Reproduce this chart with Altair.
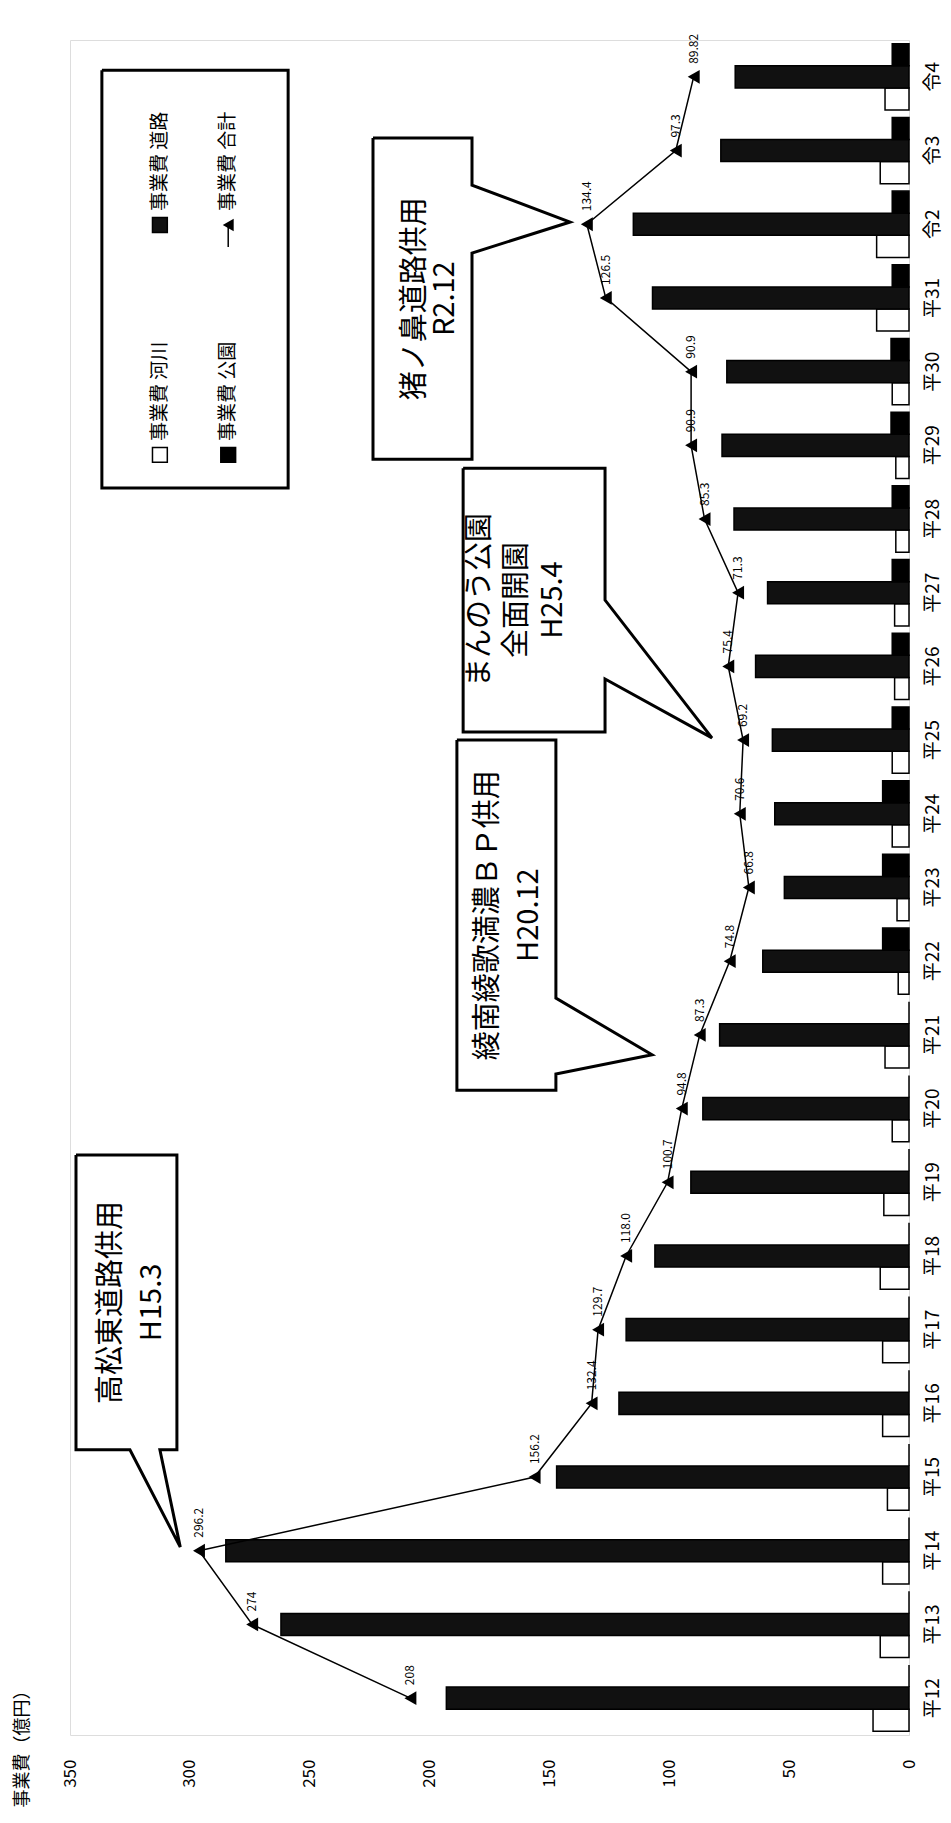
import altair as alt
import pandas as pd

FONT = "Noto Sans CJK JP"

categories = ["平12", "平13", "平14", "平15", "平16", "平17", "平18", "平19", "平20", "平21",
              "平22", "平23", "平24", "平25", "平26", "平27", "平28", "平29", "平30", "平31",
              "令2", "令3", "令4"]
kasen = [15, 12, 11, 9, 11, 11, 12, 10.5, 7, 10, 4.5, 5, 7, 7, 6, 6, 5.5, 5.5, 7, 13.5, 13.5, 12, 10]
douro = [193, 262, 285, 147, 121, 118, 106, 91, 86, 79, 61, 52, 56, 57, 64, 59, 73, 78, 76, 107, 115, 78.5, 72.5]
kouen = [0, 0, 0, 0, 0, 0, 0, 0, 0, 0, 11, 11, 11, 7, 7, 7, 7, 7.5, 7.5, 7, 7, 7, 7]
total = [208, 274, 296.2, 156.2, 132.4, 129.7, 118.0, 100.7, 94.8, 87.3, 74.8, 66.8, 70.6, 69.2,
         75.4, 71.3, 85.3, 90.9, 90.9, 126.5, 134.4, 97.3, 89.82]
total_labels = ["208", "274", "296.2", "156.2", "132.4", "129.7", "118.0", "100.7", "94.8", "87.3",
                "74.8", "66.8", "70.6", "69.2", "75.4", "71.3", "85.3", "90.9", "90.9", "126.5",
                "134.4", "97.3", "89.82"]
series_keys = ["河川", "道路", "公園"]
legend_labels = ["事業費 河川", "事業費 道路", "事業費 公園", "事業費 合計"]
value_ticks = [0, 50, 100, 150, 200, 250, 300, 350]
axis_title = "事業費（億円）"

# callouts: text lines, box (value left, value right, idx top, idx bottom), wedge, text line values
callout_lines = [["高松東道路供用", "H15.3"],
                 ["綾南綾歌満濃ＢＰ供用", "H20.12"],
                 ["まんのう公園", "全面開園", "H25.4"],
                 ["猪ノ鼻道路供用", "R2.12"]]
callout_box = [(347.5, 305.4, 7.37, 3.37),
               (188.6, 147.3, 13.0, 8.25),
               (186.0, 126.8, 16.69, 13.11),
               (223.6, 182.3, 21.17, 16.81)]
callout_wedge = [("bottom", 325.0, 312.5, 304.0, 2.05),
                 ("right", 9.5, 8.47, 107.2, 8.73),
                 ("right", 14.9, 13.83, 82.2, 13.03),
                 ("right", 20.53, 19.61, 141.4, 20.03)]
callout_text_x = [[333.0, 316.0], [175.6, 158.5], [179.0, 163.5, 148.5], [206.0, 193.5]]

legend_box = (336.7, 259.0, 22.09, 16.42)
legend_item_x = [312.5, 312.5, 284.0, 284.0]
legend_item_idx = [16.87, 19.99, 16.87, 19.99]

n = len(categories)
cat_sorted_top_down = categories[::-1]

# ---------- data tables ----------
rows = []
for i, c in enumerate(categories):
    for key, vals in zip(series_keys, [kasen, douro, kouen]):
        rows.append({"cat": c, "series": key, "value": vals[i]})
bars_df = pd.DataFrame(rows)
tot_df = pd.DataFrame({"cat": categories, "total": total, "label": total_labels,
                       "idx": list(range(n))})

PLOT_W, PLOT_H = 839, 1695

y_scale = alt.Scale(paddingInner=0.1, paddingOuter=0.05)
x_scale = alt.Scale(domain=[0, 350], reverse=True, nice=False, zero=True)

y_enc = alt.Y("cat:N", sort=cat_sorted_top_down, scale=y_scale,
              axis=alt.Axis(orient="right", labelAngle=270, labelAlign="center",
                            labelBaseline="top", labelPadding=14, ticks=False, domain=False,
                            grid=False, title=None, labelFontSize=19, labelFont=FONT,
                            labelColor="black", labelOverlap=False))

bars = alt.Chart(bars_df).mark_bar(stroke="black", strokeWidth=1.5).encode(
    y=y_enc,
    yOffset=alt.YOffset("series:N", sort=["公園", "道路", "河川"]),
    x=alt.X("value:Q", scale=x_scale,
            axis=alt.Axis(values=value_ticks, labelAngle=270, labelAlign="right",
                          labelBaseline="middle", labelPadding=24, labelFontSize=17,
                          labelFont=FONT, labelColor="black", ticks=False, domain=False,
                          grid=False, title=axis_title, titleAngle=270, titleAlign="left",
                          titleBaseline="middle", titleX=-48, titleY=72, titleFontSize=18,
                          titleFont=FONT, titleFontWeight="normal", titleColor="black")),
    fill=alt.Fill("series:N", scale=alt.Scale(domain=series_keys,
                                              range=["white", "#111111", "#000000"]),
                  legend=None),
)

line = alt.Chart(tot_df).mark_line(color="black", strokeWidth=1.5).encode(
    y=alt.Y("cat:N", sort=cat_sorted_top_down),
    x=alt.X("total:Q"),
    order=alt.Order("idx:Q"),
)
points = alt.Chart(tot_df).mark_point(shape="triangle-left", filled=True, size=190,
                                      color="black", opacity=1).encode(
    y=alt.Y("cat:N", sort=cat_sorted_top_down),
    x=alt.X("total:Q"),
)
labels = alt.Chart(tot_df).mark_text(angle=270, align="left", baseline="middle", dx=13,
                                     fontSize=12, font=FONT, color="black").encode(
    y=alt.Y("cat:N", sort=cat_sorted_top_down),
    x=alt.X("total:Q"),
    text="label:N",
)

data_layer = alt.layer(bars, line, points, labels)

# ---------- annotations (value / category-index coordinates) ----------
poly_rows, rect_rows, text_rows = [], [], []
for k, (box, wedge) in enumerate(zip(callout_box, callout_wedge)):
    vl, vr, it, ib = box
    side, a, b, tv, ti = wedge
    if side == "right":
        pts = [(vl, it), (vr, it), (vr, a), (tv, ti), (vr, b), (vr, ib), (vl, ib), (vl, it)]
    else:
        pts = [(vl, it), (vr, it), (vr, ib), (b, ib), (tv, ti), (a, ib), (vl, ib), (vl, it)]
    for j, (px, py) in enumerate(pts):
        poly_rows.append({"id": f"c{k}", "ord": j, "vx": px, "vy": py})
    rect_rows.append({"x1": vl, "x2": vr, "y1": it, "y2": ib})
    yc = (it + ib) / 2
    for t, tx in zip(callout_lines[k], callout_text_x[k]):
        text_rows.append({"vx": tx, "vy": yc, "t": t})

lvl, lvr, lit, lib = legend_box
poly_rows += [{"id": "lg", "ord": j, "vx": px, "vy": py} for j, (px, py) in
              enumerate([(lvl, lit), (lvr, lit), (lvr, lib), (lvl, lib), (lvl, lit)])]

ann_y = alt.Scale(domain=[-0.5, n - 0.5], nice=False, zero=False)
ann_x = alt.X("vx:Q")

poly_df = pd.DataFrame(poly_rows)
rect_df = pd.DataFrame(rect_rows)
text_df = pd.DataFrame(text_rows)

boxes_bg = alt.Chart(rect_df).mark_rect(fill="white").encode(
    x="x1:Q", x2="x2:Q", y=alt.Y("y1:Q", scale=ann_y, axis=None), y2="y2:Q")
outlines = alt.Chart(poly_df).mark_line(color="black", strokeWidth=3, strokeJoin="miter").encode(
    x=ann_x, y=alt.Y("vy:Q", scale=ann_y, axis=None), detail="id:N", order="ord:Q")
callout_text = alt.Chart(text_df).mark_text(angle=270, align="center", baseline="middle",
                                            fontSize=29, font=FONT, color="black").encode(
    x=ann_x, y=alt.Y("vy:Q", scale=ann_y, axis=None), text="t:N")

leg_df = pd.DataFrame({"vx": legend_item_x, "vy": legend_item_idx, "t": legend_labels,
                       "fill": ["white", "#111111", "#000000", "black"]})
leg_sym = alt.Chart(leg_df.iloc[:3]).mark_point(shape="square", size=220, filled=True,
                                                 stroke="black", strokeWidth=1.5,
                                                 opacity=1).encode(
    x=ann_x, y=alt.Y("vy:Q", scale=ann_y, axis=None),
    fill=alt.Fill("fill:N", scale=None))
leg_tri = alt.Chart(leg_df.iloc[3:]).mark_point(shape="triangle-left", size=160, filled=True,
                                                 color="black", opacity=1).encode(
    x=ann_x, y=alt.Y("vy:Q", scale=ann_y, axis=None))
leg_line = alt.Chart(leg_df.iloc[3:]).mark_rule(color="black", strokeWidth=1.5).encode(
    x=ann_x, y=alt.Y("vy:Q", scale=ann_y, axis=None),
    y2=alt.datum(legend_item_idx[3] - 0.3))
leg_text = alt.Chart(leg_df).mark_text(angle=270, align="left", baseline="middle", dx=14,
                                       fontSize=19, font=FONT, color="black").encode(
    x=ann_x, y=alt.Y("vy:Q", scale=ann_y, axis=None), text="t:N")

ann_layer = alt.layer(boxes_bg, outlines, callout_text, leg_line, leg_sym, leg_tri, leg_text)

chart = alt.layer(data_layer, ann_layer).resolve_scale(y="independent").properties(
    width=PLOT_W, height=PLOT_H,
    padding={"left": 62, "top": 32, "right": 34, "bottom": 80},
    autosize=alt.AutoSizeParams(type="none"),
).configure_view(stroke="black", strokeWidth=2).configure(background="white")

chart.save("out.html", embed_options={"renderer": "svg", "actions": False})
